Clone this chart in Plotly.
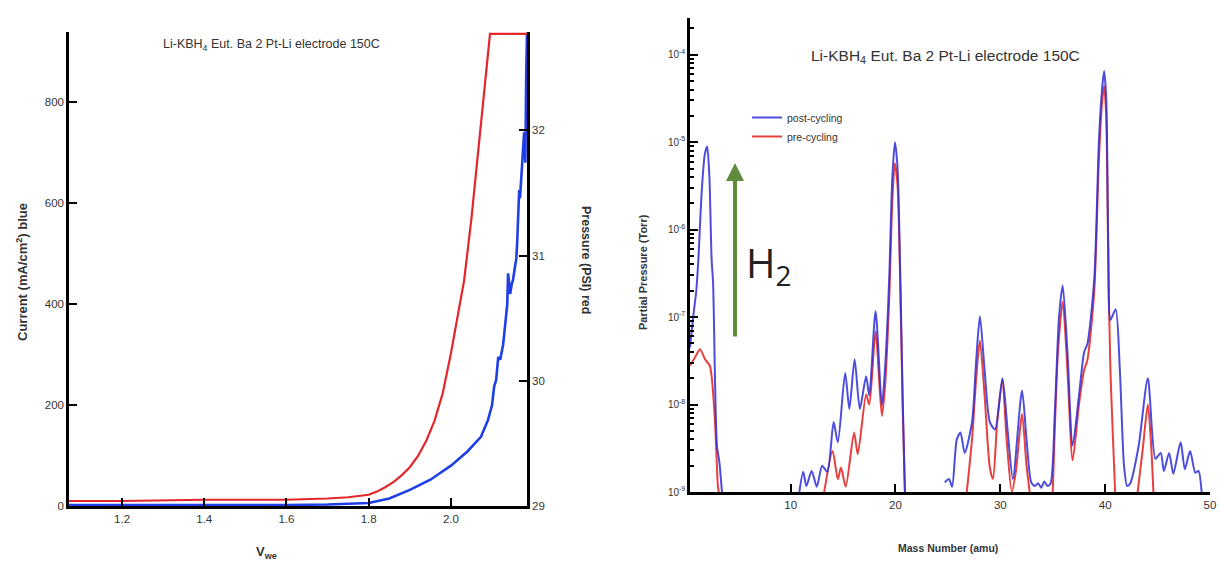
import plotly.graph_objects as go

# ---------------- Left chart: LSV current (blue) and pressure (red) ----------------
v_current = [1.071, 1.1, 1.2, 1.3, 1.4, 1.5, 1.6, 1.7, 1.75, 1.8, 1.85, 1.9, 1.95, 2.0, 2.04,
             2.073, 2.09, 2.1, 2.105, 2.11, 2.115, 2.12, 2.127, 2.13, 2.134, 2.137, 2.139, 2.142,
             2.144, 2.148, 2.151, 2.155, 2.159, 2.161, 2.163, 2.166, 2.168, 2.171, 2.174, 2.176,
             2.178, 2.18, 2.181, 2.183, 2.185]
current = [2, 2, 1, 1, 2, 2, 2, 3, 4, 6, 15, 32, 52, 80, 108,
           137, 170, 200, 236, 250, 295, 290, 320, 345, 370, 400, 461, 430,
           420, 440, 448, 470, 490, 520, 560, 626, 610, 650, 690, 700,
           740, 700, 680, 850, 938]

v_pressure = [1.071, 1.2, 1.4, 1.6, 1.7, 1.75, 1.8, 1.82, 1.84, 1.86, 1.88, 1.9, 1.92, 1.94,
              1.96, 1.98, 2.0, 2.017, 2.032, 2.05, 2.073, 2.095, 2.185]
pressure = [29.04, 29.04, 29.05, 29.05, 29.06, 29.07, 29.09, 29.115, 29.15, 29.19, 29.245, 29.31,
            29.40, 29.52, 29.68, 29.90, 30.22, 30.54, 30.80, 31.3, 32.08, 32.77, 32.77]

# ---------------- Right chart: mass spectrum ----------------
post_mass = [0.4, 0.7, 1.0, 1.2, 1.5, 1.8, 2.04, 2.25, 2.46, 2.6, 2.8, 2.97, 3.2, 3.45, None,
             10.83, 11.2, 11.5, 12.0, 12.5, 13.0, 13.5, 14.1, 14.5, 15.2, 15.6, 16.1, 16.6, 17.2,
             17.5, 18.1, 18.7, 19.0, 19.4, 19.7, 19.95, 20.2, 20.45, 20.7, 20.9, None,
             24.7, 25.1, 25.4, 25.85, 26.2, 26.6, 27.3, 27.7, 28.05, 28.5, 29.0, 29.5, 30.2, 30.7,
             31.2, 32.07, 32.5, 32.95, 33.3, 33.6, 33.9, 34.2, 34.5, 34.8, 35.2, 35.6, 35.95, 36.4,
             36.9, 37.5, 38.0, 38.3, 38.96, 39.4, 39.7, 39.9, 40.1, 40.3, 40.5, 41.0, 41.4, 41.8,
             42.1, 42.4, 43.2, 44.07, 44.8, 45.3, 45.6, 46.1, 46.5, 47.2, 47.6, 48.1, 48.6, 48.9, 49.2]
post_pressure = [4.5e-8, 1.0e-7, 2.0e-7, 4.6e-7, 2.5e-6, 7.1e-6, 8.9e-6, 4.0e-6, 4.6e-7, 2.5e-7,
                 1.6e-8, 3.4e-9, 2.2e-9, 1.0e-9, None,
                 1.0e-9, 1.7e-9, 1.17e-9, 1.74e-9, 1.15e-9, 2.0e-9, 1.7e-9, 6.3e-9, 3.7e-9, 2.3e-8,
                 8.9e-9, 3.3e-8, 8.9e-9, 2.1e-8, 1.26e-8, 1.17e-7, 9.8e-9, 2.5e-8, 2.7e-7, 4.0e-6,
                 1.0e-5, 5.0e-6, 3.2e-7, 1.0e-8, 1.0e-9, None,
                 1.29e-9, 1.41e-9, 1.15e-9, 4.0e-9, 4.8e-9, 2.8e-9, 6.3e-9, 3.2e-8, 1.02e-7, 2.5e-8,
                 6.3e-9, 5.2e-9, 2.0e-8, 5.0e-9, 1.41e-9, 1.45e-8, 4.0e-9, 1.29e-9, 1.17e-9, 1.26e-9,
                 1.12e-9, 1.32e-9, 1.17e-9, 1.26e-9, 8.1e-9, 1.0e-7, 2.3e-7, 4.0e-8, 3.4e-9, 1.26e-8,
                 4.0e-8, 4.9e-8, 2.7e-7, 1.0e-5, 4.0e-5, 6.5e-5, 3.2e-5, 6.3e-7, 9.3e-8, 1.23e-7,
                 2.5e-8, 2.0e-9, 1.17e-9, 1.26e-9, 3.4e-9, 2.0e-8, 2.4e-9, 2.8e-9, 1.74e-9, 2.8e-9,
                 1.62e-9, 3.7e-9, 1.82e-9, 2.95e-9, 1.66e-9, 1.74e-9, 1.0e-9]

pre_mass = [0.4, 0.9, 1.35, 1.83, 2.3, 2.77, 3.06, 3.15, None,
            13.2, 14.0, 14.5, 14.8, 15.25, 16.05, 16.4, 17.2, 17.5, 18.1, 18.7, 19.0, 19.4, 19.7,
            19.95, 20.2, 20.45, 20.7, 20.9, None,
            26.8, 27.3, 27.7, 28.05, 28.5, 29.0, 29.3, 29.7, 30.2, 30.6, 31.1, 31.5, 32.07, 32.5,
            32.8, None,
            35.0, 35.5, 35.95, 36.4, 36.9, 37.5, 38.0, 38.3, 38.96, 39.4, 39.7, 39.9, 40.1, 40.3,
            40.5, 40.75, 40.95, None,
            43.1, 43.6, 44.07, 44.4, 44.6]
pre_pressure = [2.8e-8, 3.5e-8, 4.3e-8, 3.3e-8, 2.75e-8, 6.8e-9, 1.17e-9, 1.0e-9, None,
                1.0e-9, 2.95e-9, 1.4e-9, 1.9e-9, 1.15e-9, 4.8e-9, 2.7e-9, 1.3e-8, 1.0e-8, 6.9e-8,
                7.4e-9, 1.6e-8, 1.6e-7, 2.2e-6, 5.75e-6, 3.2e-6, 2.5e-7, 7.9e-9, 1.0e-9, None,
                1.0e-9, 4.0e-9, 2.0e-8, 5.4e-8, 1.26e-8, 1.9e-9, 1.41e-9, 6.3e-9, 1.9e-8, 4.0e-9,
                1.0e-9, 1.78e-9, 7.8e-9, 2.0e-9, 1.0e-9, None,
                1.0e-9, 4.0e-8, 1.5e-7, 2.5e-8, 2.3e-9, 1.0e-8, 2.5e-8, 3.2e-8, 2.0e-7, 6.3e-6,
                2.8e-5, 4.4e-5, 2.0e-5, 4.0e-7, 2.5e-8, 4.0e-9, 1.0e-9, None,
                1.0e-9, 3.2e-9, 1.0e-8, 3.2e-9, 1.0e-9]

left_xticks = [1.2, 1.4, 1.6, 1.8, 2.0]
left_yticks = [0, 200, 400, 600, 800]
right_y2ticks = [29, 30, 31, 32]
mass_ticks = [10, 20, 30, 40, 50]
decade_exps = [-9, -8, -7, -6, -5, -4]

W, H = 1222, 565
FONT = "Liberation Sans, Arial, sans-serif"

def px(x):
    return x / W

def py(y):
    return 1 - y / H

fig = go.Figure()

# Left chart traces
fig.add_trace(go.Scatter(x=v_pressure, y=pressure, mode="lines", xaxis="x", yaxis="y2",
                         line=dict(color="#e3262c", width=2.2), showlegend=False))
fig.add_trace(go.Scatter(x=v_current, y=current, mode="lines", xaxis="x", yaxis="y",
                         line=dict(color="#1f3fe6", width=2.6), showlegend=False))

# Right chart traces
fig.add_trace(go.Scatter(x=pre_mass, y=pre_pressure, mode="lines", xaxis="x3", yaxis="y3",
                         name="pre-cycling", line=dict(color="#e8403e", width=2, shape="spline", smoothing=0.7),
                         connectgaps=False, legendrank=2))
fig.add_trace(go.Scatter(x=post_mass, y=post_pressure, mode="lines", xaxis="x3", yaxis="y3",
                         name="post-cycling", line=dict(color="#2f2fd8", width=2, shape="spline", smoothing=0.7),
                         opacity=0.85, connectgaps=False, legendrank=1))

axis_common = dict(showline=True, linecolor="black", linewidth=2.5, ticks="inside",
                   tickcolor="black", tickwidth=2, ticklen=8, showgrid=False, zeroline=False,
                   automargin=False)
tick_big = dict(family=FONT, size=11.5, color="#333")

minor_vals = [m * 10.0 ** e for e in decade_exps[:-1] for m in range(2, 10)] + [2e-4]

fig.update_layout(
    width=W, height=H,
    margin=dict(l=0, r=0, t=0, b=0, autoexpand=False),
    paper_bgcolor="white", plot_bgcolor="white",
    font=dict(family=FONT, color="#333"),
    xaxis=dict(domain=[px(69), px(527)], range=[1.071, 2.185], anchor="y",
               tickvals=left_xticks, ticktext=["1.2", "1.4", "1.6", "1.8", "2.0"],
               tickfont=tick_big, **axis_common),
    yaxis=dict(domain=[py(506), py(32)], range=[0, 939], anchor="x",
               tickvals=left_yticks, tickfont=tick_big, **axis_common),
    yaxis2=dict(range=[29, 32.785], overlaying="y", side="right", anchor="x",
                tickvals=right_y2ticks, tickfont=tick_big, **axis_common),
    xaxis3=dict(domain=[px(690), px(1210)], range=[0.4, 50], anchor="y3",
                tickvals=mass_ticks, tickfont=tick_big, **axis_common),
    yaxis3=dict(domain=[py(492), py(18)], type="log", range=[-9, -3.58], anchor="x3",
                tickvals=[10.0 ** e for e in decade_exps],
                ticktext=["10<sup>%d</sup>" % e for e in decade_exps],
                tickfont=dict(family=FONT, size=10, color="#333"),
                minor=dict(tickvals=minor_vals, ticks="inside", ticklen=4, tickwidth=1.5,
                           tickcolor="black"),
                **axis_common),
    legend=dict(x=px(747), y=py(103), xanchor="left", yanchor="top",
                font=dict(family=FONT, size=10.5, color="#333"), bgcolor="rgba(0,0,0,0)",
                itemwidth=30, tracegroupgap=0),
)

title_txt = "Li-KBH<sub>4</sub> Eut. Ba 2 Pt-Li electrode 150C"
annotations = [
    dict(x=px(271), y=py(45), text=title_txt, font=dict(size=12.5, color="#333")),
    dict(x=px(945), y=py(57), text=title_txt, font=dict(size=15.5, color="#333")),
    dict(x=px(22), y=py(272), text="<b>Current (mA/cm<sup>2</sup>) blue</b>", textangle=-90,
         font=dict(size=13, color="#333")),
    dict(x=px(586), y=py(260), text="<b>Pressure (PSI) red</b>", textangle=90,
         font=dict(size=12.5, color="#333")),
    dict(x=px(266), y=py(552), text="<b>V<sub>we</sub></b>", font=dict(size=13, color="#333")),
    dict(x=px(948), y=py(548), text="<b>Mass Number (amu)</b>", font=dict(size=10.5, color="#333")),
    dict(x=px(643), y=py(272), text="<b>Partial Pressure (Torr)</b>", textangle=-90,
         font=dict(size=11, color="#333")),
    dict(x=px(769), y=py(264), text="H<sub>2</sub>", font=dict(size=40, color="#222",
                                                             family="Open Sans, sans-serif")),
    dict(x=px(735), y=py(163), text="", showarrow=True, ax=0, ay=175, axref="pixel", ayref="pixel",
         arrowcolor="#5e8c3c", arrowwidth=4, arrowhead=2, arrowsize=0.9),
]
for a in annotations:
    a.setdefault("xref", "paper")
    a.setdefault("yref", "paper")
    a.setdefault("showarrow", False)
    a.setdefault("xanchor", "center")
    a.setdefault("yanchor", "middle")
    if "font" in a:
        a["font"].setdefault("family", FONT)
fig.update_layout(annotations=annotations)

fig.write_html("out.html", config={"displayModeBar": False},
               post_script="document.body.style.margin='0';document.body.style.overflow='hidden';")
